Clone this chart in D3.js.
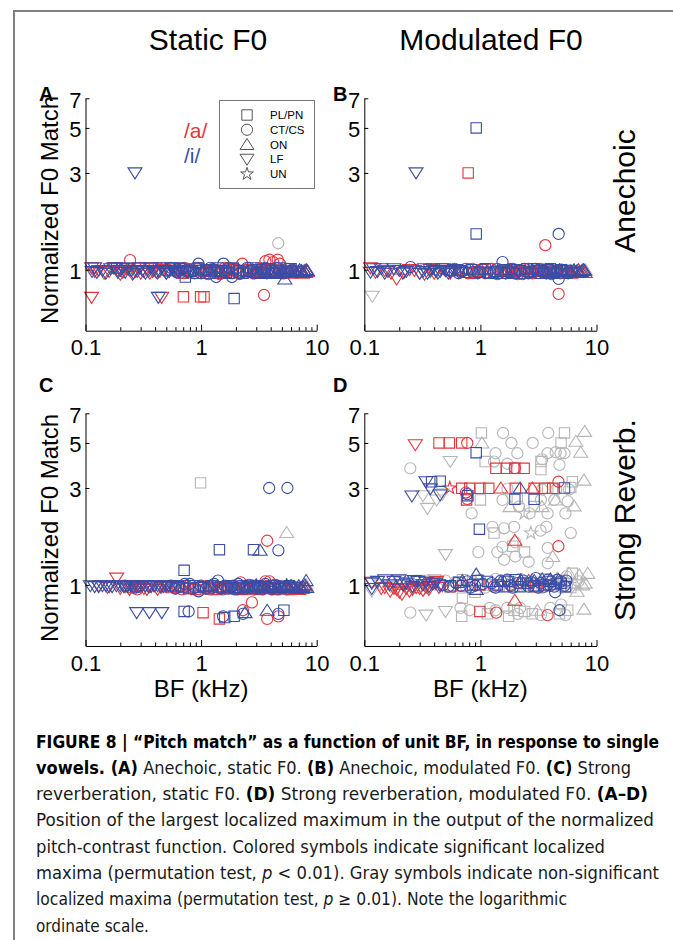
<!DOCTYPE html>
<html><head><meta charset="utf-8">
<script src="https://cdn.jsdelivr.net/npm/d3@7"></script>
<style>body{margin:0;background:#fff}svg{display:block}</style>
</head><body>
<svg id="fig" width="673" height="940"></svg>
<script>
// ---------- DATA : [BF (kHz), normalized F0 match, unit type] ----------
// unit types: PL = PL/PN, CT = CT/CS, ON = ON, LF = LF, UN = UN
const xTicks = [0.1, 1, 10];
const xMinor = [0.2,0.3,0.4,0.5,0.6,0.7,0.8,0.9,2,3,4,5,6,7,8,9];
const yTicks = [1, 3, 5, 7];
const unitTypes = ["PL", "CT", "ON", "LF", "UN"];
const legendLabels = ["PL/PN", "CT/CS", "ON", "LF", "UN"];
const columnTitles = ["Static F0", "Modulated F0"];
const rowTitles = ["Anechoic", "Strong Reverb."];

// Panel A: anechoic, static F0
const A_red = [
 [0.113,1.02,"LF"],[0.12,0.98,"LF"],[0.13,0.99,"LF"],[0.145,0.96,"LF"],[0.16,0.98,"LF"],[0.175,1.02,"LF"],[0.19,0.99,"LF"],[0.2,0.95,"LF"],[0.21,0.97,"LF"],[0.225,1.01,"LF"],[0.24,0.99,"LF"],[0.255,0.95,"LF"],[0.27,0.98,"LF"],[0.285,1.02,"LF"],[0.3,0.96,"LF"],[0.32,0.98,"LF"],[0.34,1.01,"LF"],[0.36,0.96,"LF"],[0.38,0.98,"LF"],[0.4,1.02,"LF"],[0.42,0.96,"LF"],[0.44,0.98,"LF"],[0.47,1.0,"LF"],[0.5,0.96,"LF"],[0.52,0.98,"LF"],[0.56,1.01,"LF"],
 [0.243,1.115,"CT"],[0.6,0.99,"CT"],[0.68,0.97,"CT"],[0.72,1.02,"CT"],[0.78,1.0,"CT"],[0.88,0.96,"CT"],[0.95,1.02,"CT"],[1.05,0.98,"CT"],[1.15,0.95,"CT"],[1.25,1.01,"CT"],[1.35,0.97,"CT"],[1.45,0.95,"CT"],[1.6,1.02,"CT"],[1.7,0.99,"CT"],[1.85,0.96,"CT"],[2.0,0.98,"CT"],[2.15,0.95,"CT"],[2.27,1.07,"CT"],[2.45,0.97,"CT"],[2.6,1.02,"CT"],[2.8,0.96,"CT"],[3.0,0.98,"CT"],[3.2,1.02,"CT"],[3.4,0.99,"CT"],[3.6,1.1,"CT"],[3.7,0.96,"CT"],[3.9,1.12,"CT"],[4.2,1.09,"CT"],[4.4,0.97,"CT"],[4.6,1.12,"CT"],[4.8,1.07,"CT"],[5.0,0.96,"CT"],[5.3,0.98,"CT"],[5.7,1.01,"CT"],[6.0,0.99,"CT"],
 [0.65,1.01,"PL"],[0.7,0.96,"PL"],[0.82,0.98,"PL"],[0.95,0.99,"PL"],[1.05,0.96,"PL"],[1.15,0.98,"PL"],[1.25,1.0,"PL"],[1.35,0.99,"PL"],[1.5,0.96,"PL"],[1.6,0.98,"PL"],[1.75,1.01,"PL"],[1.9,1.0,"PL"],[2.1,0.97,"PL"],[2.3,0.96,"PL"],[2.6,1.0,"PL"],[2.8,0.99,"PL"],[3.1,0.96,"PL"],[3.3,0.98,"PL"],[3.6,1.0,"PL"],[4.0,1.01,"PL"],[4.3,0.96,"PL"],[4.8,0.99,"PL"],[5.0,0.96,"PL"],
 [3.8,0.99,"ON"],[4.5,0.97,"ON"],[5.5,0.98,"ON"],[6.0,0.96,"ON"],[6.5,0.99,"ON"],[7.0,0.97,"ON"],[7.2,0.98,"ON"],[7.5,0.96,"ON"],[7.8,0.99,"ON"],[8.0,0.97,"ON"],[8.3,0.98,"ON"],
 [0.113,0.73,"LF"],[0.456,0.73,"LF"],[0.703,0.735,"PL"],[0.99,0.735,"PL"],[1.06,0.735,"PL"],[3.5,0.75,"CT"]
];
const A_blue = [
 [0.114,0.98,"LF"],[0.12,1.02,"LF"],[0.125,0.97,"LF"],[0.14,0.99,"LF"],[0.15,0.96,"LF"],[0.165,1.01,"LF"],[0.18,1.02,"LF"],[0.19,0.97,"LF"],[0.2,0.99,"LF"],[0.21,1.02,"LF"],[0.22,0.97,"LF"],[0.235,1.01,"LF"],[0.25,0.99,"LF"],[0.26,0.96,"LF"],[0.28,0.98,"LF"],[0.295,1.02,"LF"],[0.31,0.99,"LF"],[0.33,0.96,"LF"],[0.35,0.98,"LF"],[0.37,1.02,"LF"],[0.39,0.99,"LF"],[0.41,0.97,"LF"],[0.43,0.98,"LF"],[0.455,1.02,"LF"],[0.48,0.99,"LF"],[0.5,0.96,"LF"],[0.53,0.98,"LF"],[0.56,1.02,"LF"],[0.58,0.99,"LF"],[0.61,0.97,"LF"],[0.64,0.98,"LF"],[0.67,1.01,"LF"],[0.7,0.99,"LF"],[0.75,0.97,"LF"],[0.82,0.99,"LF"],[0.9,1.01,"LF"],[1.0,0.97,"LF"],[1.2,0.99,"LF"],[1.4,0.97,"LF"],
 [0.186,1.02,"PL"],[0.6,0.99,"PL"],[0.65,1.02,"PL"],[0.73,0.92,"PL"],[0.8,0.99,"PL"],[0.9,0.96,"PL"],[0.95,1.02,"PL"],[1.1,1.0,"PL"],[1.2,0.96,"PL"],[1.3,0.98,"PL"],[1.4,1.02,"PL"],[1.5,0.99,"PL"],[1.65,0.97,"PL"],[1.75,0.96,"PL"],[1.9,1.02,"PL"],[2.1,0.99,"PL"],[2.3,0.96,"PL"],[2.5,0.98,"PL"],[2.8,1.02,"PL"],[3.0,1.0,"PL"],[3.3,0.97,"PL"],[3.5,0.96,"PL"],[3.8,1.01,"PL"],[4.1,0.99,"PL"],[4.4,0.96,"PL"],[4.8,1.02,"PL"],[5.2,0.98,"PL"],[5.6,0.97,"PL"],[6.0,1.01,"PL"],[6.6,0.98,"PL"],
 [0.5,0.99,"CT"],[0.55,1.02,"CT"],[0.62,0.97,"CT"],[0.7,1.01,"CT"],[0.78,0.97,"CT"],[0.85,0.98,"CT"],[0.9,1.02,"CT"],[0.95,1.07,"CT"],[1.0,0.96,"CT"],[1.1,0.99,"CT"],[1.2,1.02,"CT"],[1.3,1.0,"CT"],[1.35,0.92,"CT"],[1.45,0.97,"CT"],[1.56,1.07,"CT"],[1.65,0.99,"CT"],[1.75,1.02,"CT"],[1.85,0.92,"CT"],[2.0,1.01,"CT"],[2.15,0.96,"CT"],[2.3,0.98,"CT"],[2.5,1.02,"CT"],[2.7,0.99,"CT"],[2.9,0.96,"CT"],[3.1,0.97,"CT"],[3.3,1.01,"CT"],[3.6,1.02,"CT"],[3.9,0.97,"CT"],[4.2,0.98,"CT"],[4.5,1.02,"CT"],[4.7,0.99,"CT"],[5.2,0.96,"CT"],[5.5,1.01,"CT"],[5.8,0.98,"CT"],[6.1,0.99,"CT"],
 [2.5,0.99,"ON"],[3.0,0.97,"ON"],[3.5,1.01,"ON"],[4.0,0.98,"ON"],[4.5,0.97,"ON"],[5.0,1.0,"ON"],[5.3,0.9,"ON"],[5.8,0.98,"ON"],[6.3,1.0,"ON"],[6.6,0.97,"ON"],[6.9,0.98,"ON"],[7.1,1.0,"ON"],[7.4,0.99,"ON"],[7.6,0.97,"ON"],[7.9,0.98,"ON"],[8.1,1.0,"ON"],[8.3,0.99,"ON"],
 [0.268,3.0,"LF"],[1.93,0.72,"PL"],[0.427,0.73,"LF"]
];
const A_gray = [[4.65,1.35,"CT"]];

// Panel B: anechoic, modulated F0
const B_red = [
 [0.113,1.02,"LF"],[0.125,0.97,"LF"],[0.15,0.99,"LF"],[0.17,0.96,"LF"],[0.19,0.9,"LF"],[0.22,0.97,"LF"],[0.245,1.0,"LF"],[0.27,0.99,"LF"],[0.3,0.96,"LF"],[0.33,0.95,"LF"],[0.37,1.0,"LF"],[0.4,0.96,"LF"],[0.42,0.98,"LF"],[0.46,1.01,"LF"],[0.5,0.99,"LF"],[0.55,0.96,"LF"],
 [0.7,0.99,"CT"],[0.78,0.96,"CT"],[0.85,1.01,"CT"],[0.95,0.98,"CT"],[1.1,0.96,"CT"],[1.25,1.01,"CT"],[1.4,0.95,"CT"],[1.5,0.98,"CT"],[1.65,0.96,"CT"],[1.8,1.01,"CT"],[1.95,0.96,"CT"],[2.1,0.95,"CT"],[2.3,0.95,"CT"],[2.45,0.98,"CT"],[2.6,1.01,"CT"],[2.8,0.96,"CT"],[3.0,0.98,"CT"],[3.3,1.01,"CT"],[3.62,1.32,"CT"],[3.7,0.96,"CT"],[3.9,0.98,"CT"],[4.1,0.95,"CT"],[4.4,0.99,"CT"],[4.72,0.76,"CT"],[4.9,0.96,"CT"],[5.2,0.99,"CT"],[5.8,0.98,"CT"],
 [0.6,0.99,"PL"],[0.785,3.0,"PL"],[0.88,0.96,"PL"],[0.95,0.98,"PL"],[1.05,1.0,"PL"],[1.15,1.01,"PL"],[1.3,0.97,"PL"],[1.4,0.96,"PL"],[1.55,0.99,"PL"],[1.7,1.0,"PL"],[1.85,0.97,"PL"],[2.0,0.98,"PL"],[2.2,0.96,"PL"],[2.5,1.01,"PL"],[2.75,0.97,"PL"],[3.1,0.96,"PL"],[3.4,0.99,"PL"],[3.8,1.0,"PL"],[4.2,0.96,"PL"],[4.5,0.98,"PL"],[5.0,0.99,"PL"],
 [5.5,0.99,"ON"],[6.0,0.96,"ON"],[6.5,0.98,"ON"],[7.0,1.0,"ON"],[7.5,0.99,"ON"],[8.0,0.97,"ON"]
];
const B_blue = [
 [0.113,0.97,"LF"],[0.12,1.01,"LF"],[0.13,0.98,"LF"],[0.14,1.01,"LF"],[0.15,0.96,"LF"],[0.16,0.98,"LF"],[0.18,1.01,"LF"],[0.2,0.99,"LF"],[0.215,0.96,"LF"],[0.23,0.98,"LF"],[0.279,3.0,"LF"],[0.3,0.96,"LF"],[0.32,0.98,"LF"],[0.33,1.01,"LF"],[0.35,0.96,"LF"],[0.37,0.98,"LF"],[0.39,1.01,"LF"],[0.41,0.99,"LF"],[0.43,0.96,"LF"],[0.45,0.98,"LF"],[0.48,1.01,"LF"],[0.5,0.99,"LF"],[0.53,0.96,"LF"],[0.55,0.98,"LF"],[0.6,1.0,"LF"],[0.65,0.97,"LF"],
 [0.25,1.03,"CT"],[0.55,0.99,"CT"],[0.6,1.01,"CT"],[0.65,0.96,"CT"],[0.7,0.98,"CT"],[0.75,1.01,"CT"],[0.8,1.0,"CT"],[0.87,0.97,"CT"],[0.95,0.96,"CT"],[1.05,1.0,"CT"],[1.15,0.97,"CT"],[1.3,0.98,"CT"],[1.4,1.01,"CT"],[1.55,1.09,"CT"],[1.65,0.96,"CT"],[1.75,0.99,"CT"],[1.9,1.01,"CT"],[2.0,0.96,"CT"],[2.2,0.99,"CT"],[2.4,1.01,"CT"],[2.6,0.96,"CT"],[2.8,0.98,"CT"],[3.0,1.01,"CT"],[3.2,1.0,"CT"],[3.45,0.97,"CT"],[3.7,0.96,"CT"],[3.95,1.0,"CT"],[4.2,0.99,"CT"],[4.5,0.97,"CT"],[4.72,1.5,"CT"],[4.72,0.9,"CT"],[5.0,1.0,"CT"],[5.3,0.97,"CT"],[5.7,0.96,"CT"],[6.0,0.99,"CT"],
 [0.65,0.99,"PL"],[0.75,0.97,"PL"],[0.84,1.0,"PL"],[0.92,5.0,"PL"],[0.92,1.5,"PL"],[1.0,0.97,"PL"],[1.1,1.01,"PL"],[1.2,0.96,"PL"],[1.35,0.98,"PL"],[1.5,0.96,"PL"],[1.6,1.0,"PL"],[1.75,0.98,"PL"],[1.9,0.96,"PL"],[2.05,1.0,"PL"],[2.2,0.99,"PL"],[2.4,0.96,"PL"],[2.6,0.98,"PL"],[2.9,1.01,"PL"],[3.1,0.99,"PL"],[3.3,0.96,"PL"],[3.5,0.98,"PL"],[3.8,1.0,"PL"],[4.0,1.01,"PL"],[4.3,0.96,"PL"],[4.6,0.98,"PL"],[5.0,1.0,"PL"],[5.5,0.99,"PL"],[6.2,0.97,"PL"],
 [3.5,0.99,"ON"],[4.2,0.97,"ON"],[4.8,1.0,"ON"],[5.4,0.96,"ON"],[6.0,0.98,"ON"],[6.4,1.0,"ON"],[6.8,0.99,"ON"],[7.1,0.97,"ON"],[7.4,0.98,"ON"],[7.7,1.0,"ON"],[7.9,0.99,"ON"]
];
const B_gray = [[0.117,0.74,"LF"],[7.6,1.0,"ON"],[8.0,1.0,"ON"]];

// Panel C: strong reverberation, static F0
const C_red = [
 [0.13,0.99,"LF"],[0.155,0.97,"LF"],[0.186,1.08,"LF"],[0.2,0.96,"LF"],[0.22,0.98,"LF"],[0.24,0.95,"LF"],[0.26,0.97,"LF"],[0.28,0.99,"LF"],[0.3,0.98,"LF"],[0.32,0.96,"LF"],[0.34,0.95,"LF"],[0.36,0.98,"LF"],[0.39,0.99,"LF"],[0.42,0.95,"LF"],[0.45,0.97,"LF"],[0.49,0.99,"LF"],
 [0.25,0.97,"CT"],[0.28,0.95,"CT"],[0.5,0.98,"CT"],[0.6,0.96,"CT"],[0.68,0.95,"CT"],[0.75,0.99,"CT"],[0.85,0.96,"CT"],[1.0,0.98,"CT"],[1.1,0.96,"CT"],[1.2,0.95,"CT"],[1.3,0.98,"CT"],[1.45,0.96,"CT"],[1.55,0.95,"CT"],[1.7,0.98,"CT"],[1.9,0.99,"CT"],[2.05,0.95,"CT"],[2.2,1.03,"CT"],[2.4,0.98,"CT"],[2.6,0.96,"CT"],[2.8,0.95,"CT"],[3.0,0.98,"CT"],[3.2,0.96,"CT"],[3.4,0.95,"CT"],[3.6,1.04,"CT"],[3.73,1.65,"CT"],[3.9,1.04,"CT"],[4.1,0.95,"CT"],[4.3,0.97,"CT"],[4.6,0.95,"CT"],[4.9,0.98,"CT"],[5.2,0.96,"CT"],[5.5,0.95,"CT"],[6.2,0.97,"CT"],
 [0.55,0.97,"PL"],[0.63,0.98,"PL"],[0.7,0.99,"PL"],[0.8,0.96,"PL"],[0.9,0.95,"PL"],[1.05,0.98,"PL"],[1.2,0.99,"PL"],[1.35,0.95,"PL"],[1.5,0.97,"PL"],[1.65,0.98,"PL"],[1.8,0.99,"PL"],[1.95,0.96,"PL"],[2.1,0.97,"PL"],[2.3,0.95,"PL"],[2.5,0.98,"PL"],[2.9,0.96,"PL"],[3.2,0.95,"PL"],[3.5,0.98,"PL"],[4.0,0.99,"PL"],[4.4,0.95,"PL"],[4.8,0.97,"PL"],[5.4,0.98,"PL"],[6.0,0.95,"PL"],[6.8,0.97,"PL"],
 [6.5,0.97,"ON"],[7.0,0.95,"ON"],[7.5,0.96,"ON"],[8.0,0.97,"ON"],
 [1.04,0.73,"PL"],[1.44,0.68,"PL"],[2.75,0.82,"CT"],[3.73,0.68,"CT"],[4.66,0.70,"CT"],[2.3,0.75,"CT"]
];
const C_blue = [
 [0.11,0.99,"LF"],[0.12,0.98,"LF"],[0.13,0.98,"LF"],[0.14,0.99,"LF"],[0.15,0.99,"LF"],[0.16,0.98,"LF"],[0.17,0.98,"LF"],[0.185,0.99,"LF"],[0.2,0.99,"LF"],[0.215,0.98,"LF"],[0.23,0.98,"LF"],[0.245,0.99,"LF"],[0.26,0.99,"LF"],[0.275,0.98,"LF"],[0.29,0.98,"LF"],[0.31,0.99,"LF"],[0.33,0.99,"LF"],[0.35,0.98,"LF"],[0.37,0.98,"LF"],[0.395,0.99,"LF"],[0.42,0.99,"LF"],[0.445,0.98,"LF"],[0.47,0.98,"LF"],[0.5,0.99,"LF"],[0.52,0.99,"LF"],[0.56,0.98,"LF"],[0.62,0.99,"LF"],[0.277,0.73,"LF"],[0.357,0.73,"LF"],[0.457,0.73,"LF"],
 [0.22,0.99,"CT"],[0.27,0.97,"CT"],[0.55,0.99,"CT"],[0.6,0.96,"CT"],[0.65,0.98,"CT"],[0.72,1.01,"CT"],[0.8,1.01,"CT"],[0.88,0.97,"CT"],[0.95,0.93,"CT"],[1.0,0.99,"CT"],[1.1,0.96,"CT"],[1.2,0.98,"CT"],[1.3,1.01,"CT"],[1.4,1.05,"CT"],[1.5,0.96,"CT"],[1.6,0.99,"CT"],[1.72,0.96,"CT"],[1.85,0.98,"CT"],[1.95,0.95,"CT"],[2.1,1.01,"CT"],[2.25,0.97,"CT"],[2.4,0.96,"CT"],[2.6,1.0,"CT"],[2.8,0.99,"CT"],[3.0,0.96,"CT"],[3.2,0.98,"CT"],[3.4,0.96,"CT"],[3.6,1.01,"CT"],[3.85,0.97,"CT"],[4.1,0.96,"CT"],[4.35,1.0,"CT"],[4.6,0.99,"CT"],[4.9,0.96,"CT"],[5.2,0.98,"CT"],[5.6,0.96,"CT"],[6.0,0.99,"CT"],
 [3.88,3.0,"CT"],[5.58,3.0,"CT"],[4.66,1.48,"CT"],[0.78,0.74,"CT"],[1.55,0.70,"CT"],[2.3,0.72,"CT"],[4.66,0.72,"CT"],
 [0.6,0.99,"PL"],[0.7,0.97,"PL"],[0.78,0.96,"PL"],[0.85,0.99,"PL"],[0.95,0.97,"PL"],[1.05,0.98,"PL"],[1.15,0.96,"PL"],[1.25,0.99,"PL"],[1.4,0.97,"PL"],[1.55,0.98,"PL"],[1.68,0.96,"PL"],[1.8,0.99,"PL"],[2.0,0.97,"PL"],[2.15,0.96,"PL"],[2.3,0.99,"PL"],[2.5,0.97,"PL"],[2.7,0.98,"PL"],[2.9,0.96,"PL"],[3.1,0.99,"PL"],[3.3,0.97,"PL"],[3.5,0.98,"PL"],[3.8,0.96,"PL"],[4.2,0.99,"PL"],[4.6,0.96,"PL"],[5.0,0.98,"PL"],[5.4,0.97,"PL"],[5.8,0.99,"PL"],[6.4,0.97,"PL"],
 [1.44,1.49,"PL"],[2.84,1.49,"PL"],[0.713,1.18,"PL"],[0.713,0.74,"PL"],[1.6,0.69,"PL"],[1.93,0.70,"PL"],[5.2,0.75,"PL"],
 [1.2,0.99,"ON"],[2.0,0.97,"ON"],[2.6,0.98,"ON"],[3.0,1.0,"ON"],[3.6,0.97,"ON"],[4.0,0.99,"ON"],[4.5,0.97,"ON"],[5.0,0.98,"ON"],[5.5,1.0,"ON"],[6.0,0.99,"ON"],[6.3,0.97,"ON"],[6.7,0.96,"ON"],[7.0,0.99,"ON"],[7.3,0.97,"ON"],[7.6,0.98,"ON"],[7.9,1.0,"ON"],[8.1,1.05,"ON"],[8.2,0.97,"ON"],
 [3.24,1.48,"ON"],[2.4,0.73,"ON"],[3.73,0.75,"ON"]
];
const C_gray = [[0.99,3.18,"PL"],[5.5,1.81,"ON"],[8.1,1.0,"ON"]];

// Panel D: strong reverberation, modulated F0
const D_red = [
 [0.275,4.9,"LF"],[0.44,5.0,"PL"],[0.54,5.0,"PL"],[0.69,5.0,"PL"],[0.77,5.0,"CT"],
 [1.36,3.75,"PL"],[1.68,3.75,"PL"],[1.98,3.75,"PL"],[2.38,3.75,"PL"],[1.98,3.76,"CT"],
 [0.545,3.0,"UN"],[0.69,2.99,"PL"],[0.81,2.99,"PL"],[0.99,2.99,"PL"],[1.18,2.99,"PL"],[1.5,3.0,"ON"],[2.0,2.99,"PL"],[2.8,3.0,"ON"],[2.9,2.99,"PL"],[3.6,2.99,"PL"],[4.2,2.99,"PL"],[4.7,3.22,"CT"],[0.76,2.62,"PL"],[0.77,2.65,"CT"],[0.75,2.85,"CT"],
 [1.98,1.66,"ON"],[4.7,1.55,"CT"],[1.98,0.84,"ON"],[0.99,0.74,"PL"],[1.37,0.73,"CT"],[3.79,0.71,"CT"],
 [0.116,1.03,"LF"],[0.14,0.96,"LF"],[0.15,0.97,"LF"],[0.167,0.93,"LF"],[0.18,0.96,"LF"],[0.19,0.95,"LF"],[0.2,0.92,"LF"],[0.211,0.9,"LF"],[0.23,0.96,"LF"],[0.245,0.93,"LF"],[0.26,0.95,"LF"],[0.28,0.97,"LF"],[0.3,0.96,"LF"],[0.32,0.94,"LF"],[0.34,0.97,"LF"],[0.36,0.95,"LF"],[0.38,1.02,"LF"],[0.42,1.04,"LF"],[0.44,0.97,"LF"],[0.47,0.99,"LF"],
 [0.58,0.98,"CT"],[0.7,0.99,"PL"],[0.99,1.0,"PL"],[1.3,0.98,"CT"],[1.8,1.0,"CT"],[2.3,1.02,"CT"],[3.0,0.98,"PL"],[3.8,1.0,"CT"],[2.6,1.05,"ON"]
];
const D_blue = [
 [0.92,4.48,"PL"],[0.257,2.74,"LF"],[0.34,3.22,"LF"],[0.38,3.22,"PL"],[0.45,3.24,"PL"],[0.37,2.97,"LF"],[0.45,2.77,"LF"],[0.77,2.8,"CT"],[0.78,2.75,"PL"],[2.2,3.0,"ON"],[5.3,3.0,"PL"],[1.98,2.64,"PL"],[2.9,2.64,"PL"],[0.98,1.88,"PL"],[0.92,1.13,"ON"],[0.92,0.95,"ON"],[4.8,0.75,"CT"],
 [0.116,1.02,"LF"],[0.116,0.96,"LF"],[0.13,1.04,"LF"],[0.15,1.06,"LF"],[0.165,1.0,"LF"],[0.18,1.04,"LF"],[0.2,1.06,"LF"],[0.215,1.0,"LF"],[0.23,1.02,"LF"],[0.26,0.98,"LF"],[0.27,1.05,"LF"],[0.29,1.04,"LF"],[0.32,1.0,"LF"],[0.34,1.03,"LF"],[0.36,0.98,"LF"],[0.39,1.01,"LF"],[0.41,1.02,"LF"],[0.45,0.99,"LF"],
 [0.48,1.0,"CT"],[0.53,0.98,"CT"],[0.62,1.02,"CT"],[0.68,0.99,"CT"],[0.77,1.04,"CT"],[0.82,0.97,"CT"],[0.9,0.99,"CT"],[1.05,1.01,"CT"],[1.25,1.02,"CT"],[1.35,0.97,"CT"],[1.5,1.05,"CT"],[1.7,1.06,"CT"],[1.85,0.99,"CT"],[2.1,1.02,"CT"],[2.35,1.05,"CT"],[2.6,0.98,"CT"],[2.75,1.03,"CT"],[3.0,1.08,"CT"],[3.15,0.97,"CT"],[3.3,1.02,"CT"],[3.55,0.98,"CT"],[3.79,1.06,"CT"],[4.0,0.99,"CT"],[4.33,0.98,"CT"],[4.6,1.06,"CT"],[4.95,1.04,"CT"],[5.3,0.99,"CT"],[4.4,0.92,"CT"],[1.9,0.97,"CT"],[5.5,1.05,"CT"],
 [0.55,0.99,"PL"],[0.65,1.03,"PL"],[0.85,1.0,"PL"],[0.95,1.05,"PL"],[1.15,1.04,"PL"],[1.4,1.0,"PL"],[1.6,0.98,"PL"],[1.75,1.04,"PL"],[2.0,1.06,"PL"],[2.2,0.98,"PL"],[2.55,1.02,"PL"],[2.9,0.99,"PL"],[3.5,1.0,"PL"],[3.9,1.04,"PL"],[4.5,1.01,"PL"],[4.95,1.02,"PL"],[5.4,0.98,"PL"],
 [0.7,1.05,"ON"],[1.5,1.04,"ON"],[2.23,1.06,"ON"],[2.91,1.05,"ON"],[3.4,1.07,"ON"],[4.0,1.07,"ON"],[4.7,1.06,"ON"]
];
const D_gray = [
 [1.02,5.6,"PL"],[1.57,5.6,"CT"],[3.84,5.6,"CT"],[5.3,5.6,"PL"],[7.9,5.7,"ON"],
 [1.03,5.0,"ON"],[1.85,5.0,"CT"],[2.82,5.0,"CT"],[4.95,5.0,"PL"],[6.65,5.1,"ON"],
 [1.35,4.45,"CT"],[2.08,4.45,"CT"],[3.79,4.45,"CT"],[4.45,4.5,"CT"],[4.9,4.45,"CT"],[5.3,4.45,"CT"],[7.3,4.5,"ON"],
 [0.55,4.05,"LF"],[1.1,4.05,"PL"],[1.31,4.05,"CT"],[1.71,3.95,"CT"],[3.32,4.05,"PL"],[3.4,4.15,"CT"],
 [0.249,3.75,"CT"],[3.32,3.7,"PL"],[4.8,3.9,"CT"],[7.8,3.28,"ON"],[6.2,3.22,"PL"],
 [1.71,2.98,"CT"],[3.4,2.95,"CT"],[4.5,2.95,"CT"],[3.8,3.0,"PL"],[6.0,3.02,"PL"],[5.8,2.95,"CT"],
 [0.32,2.75,"LF"],[0.35,2.38,"LF"],[0.42,2.62,"LF"],[0.47,2.8,"LF"],
 [1.0,2.62,"PL"],[0.84,2.25,"CT"],[1.55,2.62,"CT"],[2.08,2.66,"PL"],[2.15,2.43,"CT"],[1.8,2.43,"ON"],
 [3.32,2.62,"CT"],[4.33,2.62,"CT"],[5.65,2.58,"CT"],[4.45,2.62,"ON"],[3.4,2.43,"ON"],[2.65,2.25,"CT"],[3.79,2.25,"CT"],[5.4,2.25,"CT"],[2.91,2.43,"PL"],[2.38,2.25,"UN"],[6.4,2.45,"ON"],
 [1.27,1.93,"CT"],[1.31,1.80,"PL"],[1.6,1.9,"CT"],[1.95,1.93,"CT"],[3.7,1.93,"CT"],[6.0,1.8,"CT"],[3.3,1.85,"CT"],[2.72,1.8,"UN"],
 [1.9,1.55,"PL"],[1.55,1.54,"CT"],[1.4,1.45,"CT"],[2.4,1.45,"PL"],[3.8,1.52,"CT"],[2.0,1.62,"CT"],
 [0.5,1.41,"LF"],[0.96,1.45,"CT"],[1.6,1.33,"CT"],[2.0,1.38,"CT"],[4.2,1.38,"ON"],[3.8,1.28,"CT"],[2.6,1.3,"CT"],
 [0.116,0.93,"LF"],[0.137,1.0,"LF"],[0.17,0.98,"LF"],[0.21,1.03,"LF"],[0.25,1.0,"LF"],[0.3,1.05,"PL"],[0.36,1.04,"CT"],[0.45,1.0,"PL"],[0.5,1.05,"CT"],[0.6,1.03,"CT"],[0.7,1.06,"PL"],[0.85,1.04,"CT"],[1.0,1.06,"CT"],[1.2,1.0,"PL"],[1.35,1.07,"CT"],[1.6,1.05,"PL"],[1.85,1.03,"CT"],[2.2,1.07,"CT"],[2.5,1.0,"PL"],[2.8,1.05,"ON"],[3.2,1.03,"CT"],[3.6,1.07,"PL"],[4.1,1.04,"CT"],[4.6,1.08,"ON"],[5.2,1.05,"CT"],
 [0.2,1.05,"PL"],[0.28,0.97,"CT"],[0.4,1.06,"LF"],[0.55,0.97,"PL"],[0.75,0.98,"CT"],[1.1,0.97,"CT"],[1.45,0.99,"PL"],[2.0,0.98,"CT"],[2.9,0.98,"PL"],[3.4,0.97,"CT"],[4.3,0.99,"PL"],[5.0,0.97,"CT"],
 [5.8,1.14,"ON"],[7.1,1.12,"ON"],[8.4,1.14,"ON"],[6.45,1.02,"ON"],[7.6,1.0,"ON"],[7.0,1.04,"CT"],[6.2,1.14,"PL"],[6.0,0.97,"PL"],[5.6,0.98,"CT"],[6.8,0.93,"ON"],[8.0,1.02,"ON"],[5.5,1.1,"CT"],[0.7,0.86,"PL"],[0.9,0.92,"PL"],
 [0.249,0.73,"CT"],[0.34,0.71,"LF"],[0.5,0.74,"LF"],[0.674,0.77,"CT"],[0.81,0.75,"CT"],[0.69,0.70,"PL"],
 [1.35,0.75,"CT"],[1.7,0.77,"CT"],[2.1,0.72,"CT"],[1.75,0.70,"PL"],[1.95,0.75,"PL"],[2.4,0.74,"PL"],[2.2,0.77,"CT"],
 [3.1,0.75,"ON"],[3.32,0.71,"CT"],[4.0,0.77,"CT"],[4.8,0.72,"PL"],[5.65,0.75,"PL"],[4.95,0.80,"CT"],[7.8,0.76,"ON"],[5.4,0.71,"CT"],[2.8,0.72,"PL"],[1.15,0.72,"PL"],[1.2,0.77,"CT"]
];

// ---------- DRAWING ----------
const FONT = "'Liberation Sans', Arial, Helvetica, sans-serif";
const COL = {red:"#e6353b", blue:"#394da6", gray:"#b6b6b6"};
const svg = d3.select("#fig").style("font-family", FONT);

svg.append("line").attr("x1",14).attr("x2",673).attr("y1",11).attr("y2",11).attr("stroke","#808080").attr("stroke-width",2);
svg.append("line").attr("x1",14).attr("x2",14).attr("y1",10).attr("y2",940).attr("stroke","#808080").attr("stroke-width",2);

const markerPath = {
  PL: d3.symbol(d3.symbolSquare, 108)(),
  CT: d3.symbol(d3.symbolCircle, Math.PI*5.6*5.6)(),
  ON: "M0,-6L7,5H-7Z",
  LF: "M0,6L7,-5H-7Z",
  UN: d3.symbol(d3.symbolStar, 50)()
};

const panels = [
  {id:"A", xr:[85.5,316.7], yr:[330.7,98.3], red:A_red, blue:A_blue, gray:A_gray, lx:39, ly:101, ylab:210},
  {id:"B", xr:[364.3,596.5], yr:[330.7,98.3], red:B_red, blue:B_blue, gray:B_gray, lx:333, ly:101},
  {id:"C", xr:[85.5,316.7], yr:[646,413.3], red:C_red, blue:C_blue, gray:C_gray, lx:39, ly:392, ylab:528, xlab:true},
  {id:"D", xr:[364.3,596.5], yr:[646,413.3], red:D_red, blue:D_blue, gray:D_gray, lx:333, ly:392, xlab:true}
];

panels.forEach(p => {
  const x = d3.scaleLog().domain([0.1,10]).range(p.xr);
  const y = d3.scaleLog().domain([0.5,7]).range(p.yr);
  const g = svg.append("g");

  [["gray",p.gray],["red",p.red],["blue",p.blue]].forEach(([c,arr]) => {
    g.append("g").selectAll("path").data(arr).join("path")
      .attr("d", d => markerPath[d[2]])
      .attr("transform", d => `translate(${x(d[0])},${y(d[1])})`)
      .attr("fill","none").attr("stroke",COL[c]).attr("stroke-width",1.1);
  });

  const xa = g.append("g").attr("transform",`translate(0,${p.yr[0]})`)
    .call(d3.axisBottom(x).tickValues(xTicks).tickSizeInner(-6).tickSizeOuter(0).tickPadding(9)
      .tickFormat(d => d===0.1 ? "0.1" : String(d)));
  xa.selectAll("text").attr("font-size",22).attr("font-family",FONT).attr("fill","#000");
  xa.selectAll("line,path").attr("stroke","#000");
  const xm = g.append("g").attr("transform",`translate(0,${p.yr[0]})`)
    .call(d3.axisBottom(x).tickValues(xMinor).tickSize(-3.5).tickFormat(""));
  xm.select(".domain").remove();
  xm.selectAll("line").attr("stroke","#000");

  const ya = g.append("g").attr("transform",`translate(${p.xr[0]},0)`)
    .call(d3.axisLeft(y).tickValues(yTicks).tickSizeInner(-4).tickSizeOuter(0).tickPadding(4).tickFormat(d3.format("d")));
  ya.selectAll("text").attr("font-size",22).attr("font-family",FONT).attr("fill","#000").attr("dy","0.4em");
  ya.selectAll("line,path").attr("stroke","#000");

  svg.append("text").attr("x",p.lx).attr("y",p.ly).attr("font-size",20).attr("font-weight","bold").text(p.id);

  if (p.ylab) {
    svg.append("text").attr("transform",`translate(58,${p.ylab}) rotate(-90)`)
      .attr("text-anchor","middle").attr("font-size",24).text("Normalized F0 Match");
  }
  if (p.xlab) {
    svg.append("text").attr("x",(p.xr[0]+p.xr[1])/2).attr("y",697)
      .attr("text-anchor","middle").attr("font-size",24).text("BF (kHz)");
  }
});

svg.append("text").attr("x",208).attr("y",50).attr("text-anchor","middle").attr("font-size",30).text(columnTitles[0]);
svg.append("text").attr("x",491).attr("y",50).attr("text-anchor","middle").attr("font-size",30).text(columnTitles[1]);
svg.append("text").attr("transform","translate(635,191) rotate(-90)").attr("text-anchor","middle").attr("font-size",30).text(rowTitles[0]);
svg.append("text").attr("transform","translate(635,520) rotate(-90)").attr("text-anchor","middle").attr("font-size",30).text(rowTitles[1]);

svg.append("text").attr("x",184).attr("y",138).attr("font-size",21).attr("fill",COL.red).text("/a/");
svg.append("text").attr("x",184).attr("y",163).attr("font-size",21).attr("fill",COL.blue).text("/i/");

const lg = svg.append("g");
lg.append("rect").attr("x",219.5).attr("y",100.5).attr("width",95).attr("height",88)
  .attr("fill","#fff").attr("stroke","#777").attr("stroke-width",1);
const rowY = d3.scalePoint().domain(unitTypes).range([115,174]);
unitTypes.forEach((t,i) => {
  lg.append("path").attr("d",markerPath[t]).attr("transform",`translate(247,${rowY(t)})`)
    .attr("fill","none").attr("stroke","#555").attr("stroke-width",1);
  lg.append("text").attr("x",270).attr("y",rowY(t)).attr("dy","0.36em").attr("font-size",11.5).text(legendLabels[i]);
});

const CAP = "'Liberation Sans Narrow', 'DejaVu Sans Condensed', 'Liberation Sans', Arial, sans-serif";
const capLines = [
  {w:623, parts:[["FIGURE 8 | \u201cPitch match\u201d as a function of unit BF, in response to single","b"]]},
  {w:595, parts:[["vowels. (A)","b"],[" Anechoic, static F0. ",""],["(B)","b"],[" Anechoic, modulated F0. ",""],["(C)","b"],[" Strong",""]]},
  {w:612, parts:[["reverberation, static F0. ",""],["(D)","b"],[" Strong reverberation, modulated F0. ",""],["(A\u2013D)","b"]]},
  {w:618, parts:[["Position of the largest localized maximum in the output of the normalized",""]]},
  {w:569, parts:[["pitch-contrast function. Colored symbols indicate significant localized",""]]},
  {w:623, parts:[["maxima (permutation test, ",""],["p","i"],[" < 0.01). Gray symbols indicate non-significant",""]]},
  {w:531, parts:[["localized maxima (permutation test, ",""],["p","i"],[" \u2265 0.01). Note the logarithmic",""]]},
  {w:0, parts:[["ordinate scale.",""]]}
];
capLines.forEach((ln,i) => {
  const t = svg.append("text").attr("x",36).attr("y",747.5 + i*26.3)
    .attr("font-family",CAP).attr("font-size",17).attr("fill","#1a1a1a");
  if (ln.w) t.attr("textLength",ln.w).attr("lengthAdjust","spacingAndGlyphs");
  ln.parts.forEach(([s,st]) => {
    const ts = t.append("tspan").text(s);
    if (st==="b") ts.attr("font-weight","bold").attr("fill","#000");
    if (st==="i") ts.attr("font-style","italic");
  });
});
</script>
</body></html>
